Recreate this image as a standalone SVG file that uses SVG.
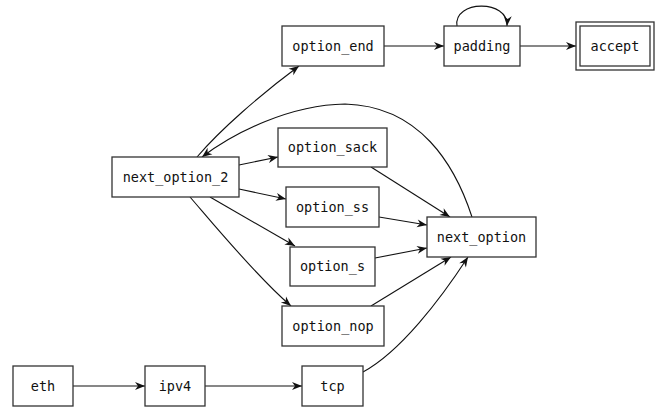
<svg xmlns="http://www.w3.org/2000/svg" width="657" height="408" viewBox="0 0 657 408">
<style>
  .box { fill: #ffffff; stroke: #333333; stroke-width: 1.3; }
  .lbl { font-family: "DejaVu Sans Mono", "Liberation Mono", monospace; font-size: 13.5px; fill: #111111; text-anchor: middle; }
  .edge { fill: none; stroke: #111111; stroke-width: 1.1; marker-end: url(#arrow); }
</style>
<defs>
  <marker id="arrow" markerUnits="userSpaceOnUse" markerWidth="11" markerHeight="9" refX="10" refY="4" orient="auto" overflow="visible">
    <path d="M0,0 L10,4 L0,8 L3,4 z" fill="#111111"/>
  </marker>
</defs>
<rect width="657" height="408" fill="#ffffff"/>
<g id="connectors">
  <path class="edge" d="M73,386 L145,386"/>
  <path class="edge" d="M205,386 L302,386"/>
  <path class="edge" d="M363,372 C400,352 440,300 468,257"/>
  <path class="edge" d="M371,306 L451,257"/>
  <path class="edge" d="M375,258 L427,248"/>
  <path class="edge" d="M379,217 L427,225"/>
  <path class="edge" d="M371,167 L450,217"/>
  <path class="edge" d="M472,217 C455,165 420,106 345,104 C290,105 235,132 202,157"/>
  <path class="edge" d="M197,157 C220,130 260,95 299,66"/>
  <path class="edge" d="M239,165 L278,157"/>
  <path class="edge" d="M239,189 L286,199"/>
  <path class="edge" d="M210,197 L295,246"/>
  <path class="edge" d="M190,197 C210,220 255,275 291,306"/>
  <path class="edge" d="M384,46 L444,46"/>
  <path class="edge" d="M520,46 L576,46"/>
  <path class="edge" d="M457,26 C453,0 509,-1 507,26"/>
</g>
<g id="option_end"><rect class="box" x="282" y="26" width="102" height="40"/><text class="lbl" x="333" y="51">option_end</text></g>
<g id="padding"><rect class="box" x="444" y="26" width="76" height="40"/><text class="lbl" x="482" y="51">padding</text></g>
<g id="accept"><rect class="box" x="576" y="22" width="78" height="48"/><rect class="box" x="580" y="26" width="70" height="40"/><text class="lbl" x="615" y="51">accept</text></g>
<g id="next_option_2"><rect class="box" x="112" y="157" width="127" height="40"/><text class="lbl" x="175.5" y="182">next_option_2</text></g>
<g id="option_sack"><rect class="box" x="278" y="128" width="109" height="39"/><text class="lbl" x="332.5" y="152">option_sack</text></g>
<g id="option_ss"><rect class="box" x="286" y="187" width="93" height="40"/><text class="lbl" x="332.5" y="212">option_ss</text></g>
<g id="option_s"><rect class="box" x="290" y="247" width="85" height="39"/><text class="lbl" x="332.5" y="271">option_s</text></g>
<g id="option_nop"><rect class="box" x="282" y="306" width="102" height="40"/><text class="lbl" x="333" y="331">option_nop</text></g>
<g id="next_option"><rect class="box" x="427" y="217" width="109" height="40"/><text class="lbl" x="481.5" y="242">next_option</text></g>
<g id="eth"><rect class="box" x="13" y="366" width="60" height="40"/><text class="lbl" x="43" y="391">eth</text></g>
<g id="ipv4"><rect class="box" x="145" y="366" width="60" height="40"/><text class="lbl" x="175" y="391">ipv4</text></g>
<g id="tcp"><rect class="box" x="302" y="366" width="61" height="40"/><text class="lbl" x="332.5" y="391">tcp</text></g>
</svg>
